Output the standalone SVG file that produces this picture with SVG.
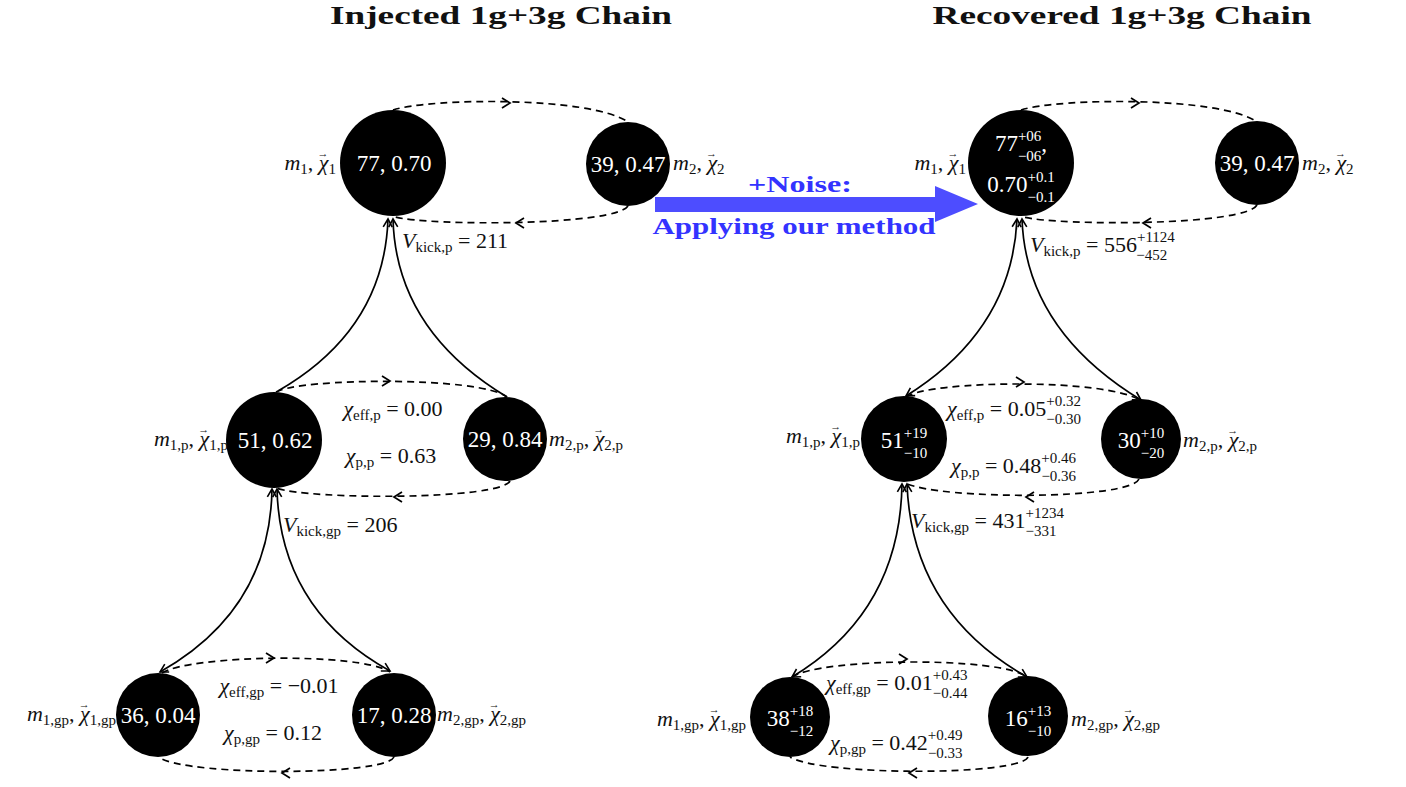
<svg xmlns="http://www.w3.org/2000/svg" width="1406" height="787" viewBox="0 0 1406 787">
<style>
text{font-family:"Liberation Serif","DejaVu Serif",serif;fill:#111}
.title{font-size:26px;font-weight:bold;text-anchor:middle}
.blue{font-size:24px;font-weight:bold;fill:#3333ff;text-anchor:middle}
.lbl{font-size:22px}
.it{font-style:italic}
.sub{font-size:15px}
.ss{font-size:15px}
.vec{font-size:11px}
.ct{font-size:23px;fill:#fff;text-anchor:middle}
.ct .ss{fill:#fff}
.node{fill:#000}
.solid{fill:none;stroke:#000;stroke-width:1.7}
.dash{fill:none;stroke:#000;stroke-width:1.7;stroke-dasharray:7 5}
.chev{fill:none;stroke:#000;stroke-width:1.7}
</style>
<defs>
<marker id="ah" markerWidth="14" markerHeight="14" refX="10" refY="7" orient="auto" markerUnits="userSpaceOnUse">
<path d="M2,2.5 L10,7 L2,11.5" fill="none" stroke="#000" stroke-width="1.6"/>
</marker>
<marker id="ahs" markerWidth="14" markerHeight="14" refX="4" refY="7" orient="auto" markerUnits="userSpaceOnUse">
<path d="M12,2.5 L4,7 L12,11.5" fill="none" stroke="#000" stroke-width="1.6"/>
</marker>
</defs>

<text class="title" x="501" y="24" textLength="342" lengthAdjust="spacingAndGlyphs">Injected 1g+3g Chain</text>
<text class="title" x="1122" y="24" textLength="379" lengthAdjust="spacingAndGlyphs">Recovered 1g+3g Chain</text>

<g id="noise-arrow">
<polygon points="655,197 935,197 935,186 978,204 935,222 935,212 655,212" fill="#4d4dff"/>
<text class="blue" x="800" y="192" textLength="104" lengthAdjust="spacingAndGlyphs">+Noise:</text>
<text class="blue" x="794" y="234" textLength="283" lengthAdjust="spacingAndGlyphs">Applying our method</text>
</g>

<g id="connectors">
<path class="dash" d="M393,110 C430,98 590,96 628,122"/>
<path class="chev" d="M502,98 L510,103 L502,108"/>
<path class="dash" d="M628,206 C615,226 430,226 395,217"/>
<path class="chev" d="M524,218 L516,223 L524,228"/>
<path class="solid" d="M278,391 Q384,330 388,219" marker-end="url(#ah)"/>
<path class="solid" d="M507,397 Q396,330 393,219" marker-end="url(#ah)"/>
<path class="dash" d="M276,392 C300,378 480,376 507,397"/>
<path class="chev" d="M382,376 L390,381 L382,386"/>
<path class="dash" d="M510,481 C500,500 310,500 276,488"/>
<path class="chev" d="M402,492 L394,497 L402,502"/>
<path class="solid" d="M160,672 Q270,610 272,489" marker-start="url(#ahs)" marker-end="url(#ah)"/>
<path class="solid" d="M390,671 Q280,610 277,489" marker-start="url(#ahs)" marker-end="url(#ah)"/>
<path class="dash" d="M162,673 C190,655 360,652 390,672"/>
<path class="chev" d="M266,653 L274,658 L266,663"/>
<path class="dash" d="M394,757 C385,776 190,776 160,758"/>
<path class="chev" d="M290,768 L282,773 L290,778"/>

<path class="dash" d="M1021,110 C1058,98 1220,96 1257,122"/>
<path class="chev" d="M1131,98 L1139,103 L1131,108"/>
<path class="dash" d="M1257,205 C1245,226 1060,226 1023,217"/>
<path class="chev" d="M1151,218 L1143,223 L1151,228"/>
<path class="solid" d="M906,396 Q1012,330 1017,219" marker-start="url(#ahs)" marker-end="url(#ah)"/>
<path class="solid" d="M1141,400 Q1026,330 1022,219" marker-start="url(#ahs)" marker-end="url(#ah)"/>
<path class="dash" d="M906,397 C930,380 1110,378 1141,401"/>
<path class="chev" d="M1016,377 L1024,382 L1016,387"/>
<path class="dash" d="M1139,479 C1130,500 940,500 905,483"/>
<path class="chev" d="M1034,492 L1026,497 L1034,502"/>
<path class="solid" d="M792,677 Q900,612 902,484" marker-start="url(#ahs)" marker-end="url(#ah)"/>
<path class="solid" d="M1027,677 Q912,612 907,484" marker-start="url(#ahs)" marker-end="url(#ah)"/>
<path class="dash" d="M792,677 C820,658 1000,656 1027,677"/>
<path class="chev" d="M899,654 L907,659 L899,664"/>
<path class="dash" d="M1028,757 C1020,776 820,776 790,757"/>
<path class="chev" d="M917,768 L909,773 L917,778"/>
</g>

<!-- LEFT NODES -->
<g id="L-m1">
<circle class="node" cx="393" cy="163" r="53"/>
<text class="ct" x="394" y="171">77, 0.70</text>
<text class="lbl" x="336" y="170" text-anchor="end"><tspan class="it">m</tspan><tspan class="sub" dy="4">1</tspan><tspan dy="-4">, </tspan><tspan class="it">χ</tspan><tspan class="vec" dx="-11" dy="-13">→</tspan><tspan class="sub" dy="17">1</tspan></text>
</g>
<g id="L-m2">
<circle class="node" cx="628" cy="164" r="42"/>
<text class="ct" x="628" y="172">39, 0.47</text>
<text class="lbl" x="673" y="170"><tspan class="it">m</tspan><tspan class="sub" dy="4">2</tspan><tspan dy="-4">, </tspan><tspan class="it">χ</tspan><tspan class="vec" dx="-11" dy="-13">→</tspan><tspan class="sub" dy="17">2</tspan></text>
</g>
<text class="lbl" x="402" y="248"><tspan class="it">V</tspan><tspan class="sub" dy="4">kick,p</tspan><tspan dy="-4"> = 211</tspan></text>

<g id="L-m1p">
<circle class="node" cx="274" cy="440" r="48"/>
<text class="ct" x="275" y="448">51, 0.62</text>
<text class="lbl" x="228" y="446" text-anchor="end"><tspan class="it">m</tspan><tspan class="sub" dy="4">1,p</tspan><tspan dy="-4">, </tspan><tspan class="it">χ</tspan><tspan class="vec" dx="-11" dy="-13">→</tspan><tspan class="sub" dy="17">1,p</tspan></text>
</g>
<g id="L-m2p">
<circle class="node" cx="505" cy="439" r="42"/>
<text class="ct" x="505" y="447">29, 0.84</text>
<text class="lbl" x="549" y="446"><tspan class="it">m</tspan><tspan class="sub" dy="4">2,p</tspan><tspan dy="-4">, </tspan><tspan class="it">χ</tspan><tspan class="vec" dx="-11" dy="-13">→</tspan><tspan class="sub" dy="17">2,p</tspan></text>
</g>
<text class="lbl" x="393" y="416" text-anchor="middle"><tspan class="it">χ</tspan><tspan class="sub" dy="4">eff,p</tspan><tspan dy="-4"> = 0.00</tspan></text>
<text class="lbl" x="391" y="463" text-anchor="middle"><tspan class="it">χ</tspan><tspan class="sub" dy="4">p,p</tspan><tspan dy="-4"> = 0.63</tspan></text>
<text class="lbl" x="283" y="532"><tspan class="it">V</tspan><tspan class="sub" dy="4">kick,gp</tspan><tspan dy="-4"> = 206</tspan></text>

<g id="L-m1gp">
<circle class="node" cx="158" cy="715" r="42"/>
<text class="ct" x="158" y="723">36, 0.04</text>
<text class="lbl" x="116" y="721" text-anchor="end"><tspan class="it">m</tspan><tspan class="sub" dy="4">1,gp</tspan><tspan dy="-4">, </tspan><tspan class="it">χ</tspan><tspan class="vec" dx="-11" dy="-13">→</tspan><tspan class="sub" dy="17">1,gp</tspan></text>
</g>
<g id="L-m2gp">
<circle class="node" cx="394" cy="715" r="42"/>
<text class="ct" x="394" y="723">17, 0.28</text>
<text class="lbl" x="437" y="721"><tspan class="it">m</tspan><tspan class="sub" dy="4">2,gp</tspan><tspan dy="-4">, </tspan><tspan class="it">χ</tspan><tspan class="vec" dx="-11" dy="-13">→</tspan><tspan class="sub" dy="17">2,gp</tspan></text>
</g>
<text class="lbl" x="279" y="693" text-anchor="middle"><tspan class="it">χ</tspan><tspan class="sub" dy="4">eff,gp</tspan><tspan dy="-4"> = −0.01</tspan></text>
<text class="lbl" x="273" y="740" text-anchor="middle"><tspan class="it">χ</tspan><tspan class="sub" dy="4">p,gp</tspan><tspan dy="-4"> = 0.12</tspan></text>

<!-- RIGHT NODES -->
<g id="R-m1">
<circle class="node" cx="1021" cy="163" r="53"/>
<text class="ct" x="1021" y="151">77<tspan class="ss" dy="-10">+06</tspan><tspan class="ss" dx="-23.5" dy="20">−06</tspan><tspan dy="-10">,</tspan></text>
<text class="ct" x="1021" y="192">0.70<tspan class="ss" dy="-10">+0.1</tspan><tspan class="ss" dx="-27.2" dy="20">−0.1</tspan></text>
<text class="lbl" x="966" y="170" text-anchor="end"><tspan class="it">m</tspan><tspan class="sub" dy="4">1</tspan><tspan dy="-4">, </tspan><tspan class="it">χ</tspan><tspan class="vec" dx="-11" dy="-13">→</tspan><tspan class="sub" dy="17">1</tspan></text>
</g>
<g id="R-m2">
<circle class="node" cx="1257" cy="163" r="42"/>
<text class="ct" x="1257" y="171">39, 0.47</text>
<text class="lbl" x="1302" y="170"><tspan class="it">m</tspan><tspan class="sub" dy="4">2</tspan><tspan dy="-4">, </tspan><tspan class="it">χ</tspan><tspan class="vec" dx="-11" dy="-13">→</tspan><tspan class="sub" dy="17">2</tspan></text>
</g>
<text class="lbl" x="1030" y="252"><tspan class="it">V</tspan><tspan class="sub" dy="4">kick,p</tspan><tspan dy="-4"> = 556</tspan><tspan class="ss" dy="-10">+1124</tspan><tspan class="ss" dx="-38.5" dy="18">−452</tspan></text>

<g id="R-m1p">
<circle class="node" cx="904" cy="439" r="43"/>
<text class="ct" x="904" y="448">51<tspan class="ss" dy="-10">+19</tspan><tspan class="ss" dx="-23.5" dy="20">−10</tspan></text>
<text class="lbl" x="860" y="443" text-anchor="end"><tspan class="it">m</tspan><tspan class="sub" dy="4">1,p</tspan><tspan dy="-4">, </tspan><tspan class="it">χ</tspan><tspan class="vec" dx="-11" dy="-13">→</tspan><tspan class="sub" dy="17">1,p</tspan></text>
</g>
<g id="R-m2p">
<circle class="node" cx="1141" cy="439" r="40"/>
<text class="ct" x="1141" y="448">30<tspan class="ss" dy="-10">+10</tspan><tspan class="ss" dx="-23.5" dy="20">−20</tspan></text>
<text class="lbl" x="1183" y="447"><tspan class="it">m</tspan><tspan class="sub" dy="4">2,p</tspan><tspan dy="-4">, </tspan><tspan class="it">χ</tspan><tspan class="vec" dx="-11" dy="-13">→</tspan><tspan class="sub" dy="17">2,p</tspan></text>
</g>
<text class="lbl" x="947" y="416"><tspan class="it">χ</tspan><tspan class="sub" dy="4">eff,p</tspan><tspan dy="-4"> = 0.05</tspan><tspan class="ss" dy="-10">+0.32</tspan><tspan class="ss" dx="-34.7" dy="18">−0.30</tspan></text>
<text class="lbl" x="951" y="473"><tspan class="it">χ</tspan><tspan class="sub" dy="4">p,p</tspan><tspan dy="-4"> = 0.48</tspan><tspan class="ss" dy="-10">+0.46</tspan><tspan class="ss" dx="-34.7" dy="18">−0.36</tspan></text>
<text class="lbl" x="911" y="528"><tspan class="it">V</tspan><tspan class="sub" dy="4">kick,gp</tspan><tspan dy="-4"> = 431</tspan><tspan class="ss" dy="-10">+1234</tspan><tspan class="ss" dx="-38.5" dy="18">−331</tspan></text>

<g id="R-m1gp">
<circle class="node" cx="790" cy="717" r="40"/>
<text class="ct" x="790" y="726">38<tspan class="ss" dy="-10">+18</tspan><tspan class="ss" dx="-23.5" dy="20">−12</tspan></text>
<text class="lbl" x="746" y="726" text-anchor="end"><tspan class="it">m</tspan><tspan class="sub" dy="4">1,gp</tspan><tspan dy="-4">, </tspan><tspan class="it">χ</tspan><tspan class="vec" dx="-11" dy="-13">→</tspan><tspan class="sub" dy="17">1,gp</tspan></text>
</g>
<g id="R-m2gp">
<circle class="node" cx="1028" cy="716" r="40"/>
<text class="ct" x="1028" y="726">16<tspan class="ss" dy="-10">+13</tspan><tspan class="ss" dx="-23.5" dy="20">−10</tspan></text>
<text class="lbl" x="1071" y="726"><tspan class="it">m</tspan><tspan class="sub" dy="4">2,gp</tspan><tspan dy="-4">, </tspan><tspan class="it">χ</tspan><tspan class="vec" dx="-11" dy="-13">→</tspan><tspan class="sub" dy="17">2,gp</tspan></text>
</g>
<text class="lbl" x="826" y="690"><tspan class="it">χ</tspan><tspan class="sub" dy="4">eff,gp</tspan><tspan dy="-4"> = 0.01</tspan><tspan class="ss" dy="-10">+0.43</tspan><tspan class="ss" dx="-34.7" dy="18">−0.44</tspan></text>
<text class="lbl" x="830" y="750"><tspan class="it">χ</tspan><tspan class="sub" dy="4">p,gp</tspan><tspan dy="-4"> = 0.42</tspan><tspan class="ss" dy="-10">+0.49</tspan><tspan class="ss" dx="-34.7" dy="18">−0.33</tspan></text>
</svg>
